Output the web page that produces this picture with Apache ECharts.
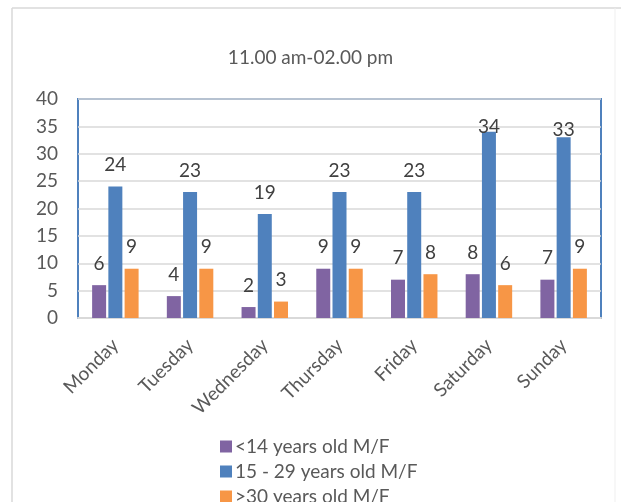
<!DOCTYPE html>
<html>
<head>
<meta charset="utf-8">
<script src="https://cdn.jsdelivr.net/npm/echarts@6/dist/echarts.min.js"></script>
<style>
  html, body { margin: 0; padding: 0; background: #fff; }
  #chart { width: 621px; height: 502px; }
</style>
</head>
<body>
<div id="chart"></div>
<script>
// Visitors per day, 11.00 am - 02.00 pm, by age group
const days = ['Monday', 'Tuesday', 'Wednesday', 'Thursday', 'Friday', 'Saturday', 'Sunday'];
const under14 = [6, 4, 2, 9, 7, 8, 7];
const age15to29 = [24, 23, 19, 23, 23, 34, 33];
const over30 = [9, 9, 3, 9, 8, 6, 9];
const seriesNames = ['<14 years old M/F', '15 - 29 years old M/F', '>30 years old M/F'];
const yTicks = { min: 0, max: 40, step: 5 };

const FONT = 'Lato';
const colors = ['#8064a2', '#4f81bd', '#f79646'];

// Labels sit above each bar, but are kept inside the plot frame near the top
function withLabels(values) {
  return values.map(function (v) {
    const item = { value: v };
    if (v >= 33) {
      item.label = { distance: v >= 34 ? -5 : -2 };
    }
    return item;
  });
}

function barSeries(name, values, color) {
  return {
    name: name,
    type: 'bar',
    data: withLabels(values),
    barWidth: 14,
    barGap: '16%',
    itemStyle: { color: color },
    label: {
      show: true,
      position: 'top',
      distance: 12,
      color: '#404040',
      fontSize: 19,
      fontFamily: FONT
    }
  };
}

const chart = echarts.init(document.getElementById('chart'));
chart.setOption({
  animation: false,
  backgroundColor: '#ffffff',
  graphic: [
    { type: 'line', shape: { x1: 12, y1: 8, x2: 621, y2: 8 }, style: { stroke: '#d9d9d9', lineWidth: 1.5 }, z: -10 },
    { type: 'line', shape: { x1: 12, y1: 8, x2: 12, y2: 502 }, style: { stroke: '#d9d9d9', lineWidth: 1.5 }, z: -10 },
    { type: 'line', shape: { x1: 615, y1: 8, x2: 615, y2: 502 }, style: { stroke: '#efefef', lineWidth: 1 }, z: -10 }
  ],
  title: {
    text: '11.00 am-02.00 pm',
    left: 'center',
    top: 43,
    textStyle: { fontFamily: FONT, fontSize: 19, fontWeight: 'normal', color: '#595959' }
  },
  grid: {
    left: 78, top: 99, width: 523, height: 219,
    show: true, borderColor: '#4f81bd', borderWidth: 2, backgroundColor: 'transparent'
  },
  legend: {
    orient: 'vertical',
    left: 215,
    top: 432,
    height: 120,
    itemWidth: 12,
    itemHeight: 12,
    itemGap: 6,
    icon: 'rect',
    textStyle: { fontFamily: FONT, fontSize: 19, color: '#595959', padding: [0, 0, 0, -2] },
    data: seriesNames
  },
  xAxis: {
    type: 'category',
    data: days,
    axisLine: { show: true, lineStyle: { color: '#d9d9d9', width: 2 } },
    axisTick: { show: false },
    axisLabel: { rotate: 45, margin: 24, fontFamily: FONT, fontSize: 19, color: '#595959' }
  },
  yAxis: {
    type: 'value',
    min: yTicks.min, max: yTicks.max, interval: yTicks.step,
    axisLine: { show: false },
    axisTick: { show: false },
    splitLine: { lineStyle: { color: '#d9d9d9', width: 1.5 } },
    axisLabel: { margin: 20, fontFamily: FONT, fontSize: 19, color: '#595959' }
  },
  series: [
    barSeries(seriesNames[0], under14, colors[0]),
    barSeries(seriesNames[1], age15to29, colors[1]),
    barSeries(seriesNames[2], over30, colors[2])
  ]
});
</script>
</body>
</html>
